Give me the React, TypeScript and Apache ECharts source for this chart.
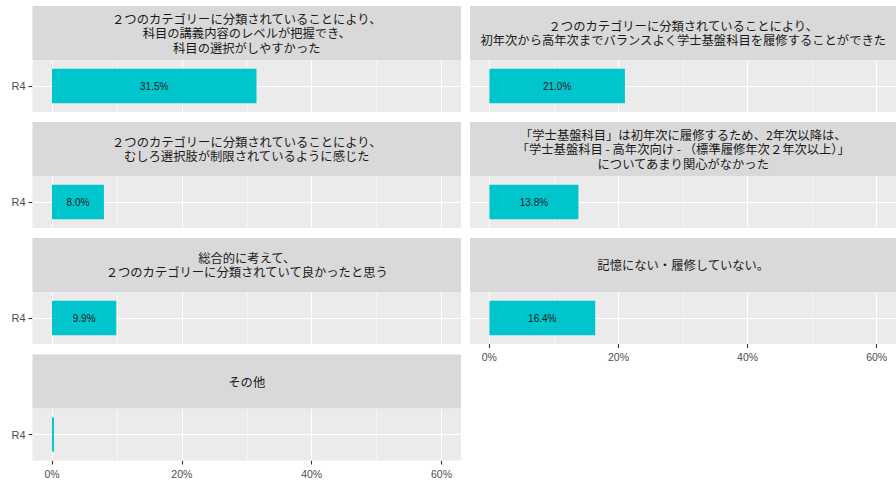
import React, { useEffect, useRef } from 'react';
import * as echarts from 'echarts';

const facetLabels = [
  '２つのカテゴリーに分類されていることにより、\n科目の講義内容のレベルが把握でき、\n科目の選択がしやすかった',
  '２つのカテゴリーに分類されていることにより、\n初年次から高年次までバランスよく学士基盤科目を履修することができた',
  '２つのカテゴリーに分類されていることにより、\nむしろ選択肢が制限されているように感じた',
  '「学士基盤科目」は初年次に履修するため、2年次以降は、\n「学士基盤科目 - 高年次向け - （標準履修年次２年次以上）」\nについてあまり関心がなかった',
  '総合的に考えて、\n２つのカテゴリーに分類されていて良かったと思う',
  '記憶にない・履修していない。',
  'その他',
];
const categories = ['R4'];
const values = [31.5, 21.0, 8.0, 13.8, 9.9, 16.4, 0.3];
const majorTicks = [0, 20, 40, 60];
const minorTicks = [10, 30, 50];

const FONT = '"Liberation Sans", "Noto Sans CJK JP", sans-serif';
const CJK = '"Noto Sans CJK JP", sans-serif';

export default function App() {
  const ref = useRef<HTMLDivElement>(null);
  useEffect(() => {
    if (!ref.current) return;
    const chart = echarts.init(ref.current, undefined, { renderer: 'svg' });
    const colLeft = [32.5, 470];
    const colWidth = [428.5, 426.5];
    const stripTop = [6, 122, 238, 354.5];
    const stripH = 54;
    const panelH = 52;
    const grids: any[] = [];
    const xAxes: any[] = [];
    const yAxes: any[] = [];
    const series: any[] = [];
    const graphics: any[] = [];
    facetLabels.forEach((lab, i) => {
      const col = i % 2;
      const row = Math.floor(i / 2);
      const bottom = i === 5 || i === 6;
      const left = colLeft[col];
      const width = colWidth[col];
      const top = stripTop[row];
      graphics.push({
        type: 'rect',
        shape: { x: left, y: top, width, height: stripH },
        style: { fill: '#D9D9D9' },
        silent: true,
      });
      graphics.push({
        type: 'text',
        x: left + width / 2,
        y: top + stripH / 2,
        style: {
          text: lab,
          textAlign: 'center',
          textVerticalAlign: 'middle',
          font: '12.3px ' + CJK,
          fill: '#1A1A1A',
          lineHeight: 14.5,
        },
        silent: true,
      });
      grids.push({
        left,
        top: top + stripH,
        width,
        height: panelH,
        show: true,
        backgroundColor: '#EBEBEB',
        borderWidth: 0,
      });
      xAxes.push({
        type: 'value',
        gridIndex: i,
        min: -3,
        max: 63,
        splitLine: { show: false },
        axisLine: { show: false, onZero: false },
        axisTick: {
          show: bottom,
          customValues: majorTicks,
          length: 4,
          lineStyle: { color: '#333333', width: 1.1 },
        },
        axisLabel: {
          show: bottom,
          customValues: majorTicks,
          formatter: '{value}%',
          color: '#4D4D4D',
          fontSize: 10.5,
          fontFamily: FONT,
          margin: 8,
        },
      });
      yAxes.push({
        type: 'category',
        gridIndex: i,
        data: categories,
        axisLine: { show: true, onZero: false, lineStyle: { opacity: 0 } },
        splitLine: { show: false },
        axisTick: {
          show: col === 0,
          alignWithLabel: true,
          length: 4,
          lineStyle: { color: '#333333', width: 1.1, opacity: 1 },
        },
        axisLabel: {
          show: col === 0,
          color: '#4D4D4D',
          fontSize: 11,
          fontFamily: FONT,
          margin: 7,
        },
      });
      series.push({
        type: 'bar',
        xAxisIndex: i,
        yAxisIndex: i,
        barWidth: '66%',
        z: 2,
        itemStyle: { color: '#00C5CD' },
        label: {
          show: true,
          position: 'inside',
          formatter: (p: any) => Number(p.value).toFixed(1) + '%',
          fontSize: 10,
          fontFamily: FONT,
          color: '#1A1A1A',
        },
        data: [{ value: values[i], label: { show: values[i] >= 1 } }],
        markLine: {
          silent: true,
          z: 1,
          symbol: ['none', 'none'],
          label: { show: false },
          emphasis: { disabled: true },
          lineStyle: { color: '#FFFFFF', type: 'solid', width: 1.1 },
          data: [
            ...majorTicks.map((v) => ({ xAxis: v, lineStyle: { color: '#FFFFFF', type: 'solid', width: 1.1 } })),
            ...minorTicks.map((v) => ({ xAxis: v, lineStyle: { color: '#FFFFFF', type: 'solid', width: 0.55 } })),
            ...categories.map((c) => ({ yAxis: c, lineStyle: { color: '#FFFFFF', type: 'solid', width: 1.1 } })),
          ],
        },
      });
    });
    chart.setOption({
      animation: false,
      backgroundColor: '#FFFFFF',
      grid: grids,
      xAxis: xAxes,
      yAxis: yAxes,
      series,
      graphic: { elements: graphics },
    });
    return () => chart.dispose();
  }, []);
  return (
    <div
      ref={ref}
      style={{ position: 'fixed', left: 0, top: 0, width: 896, height: 480 }}
    />
  );
}
